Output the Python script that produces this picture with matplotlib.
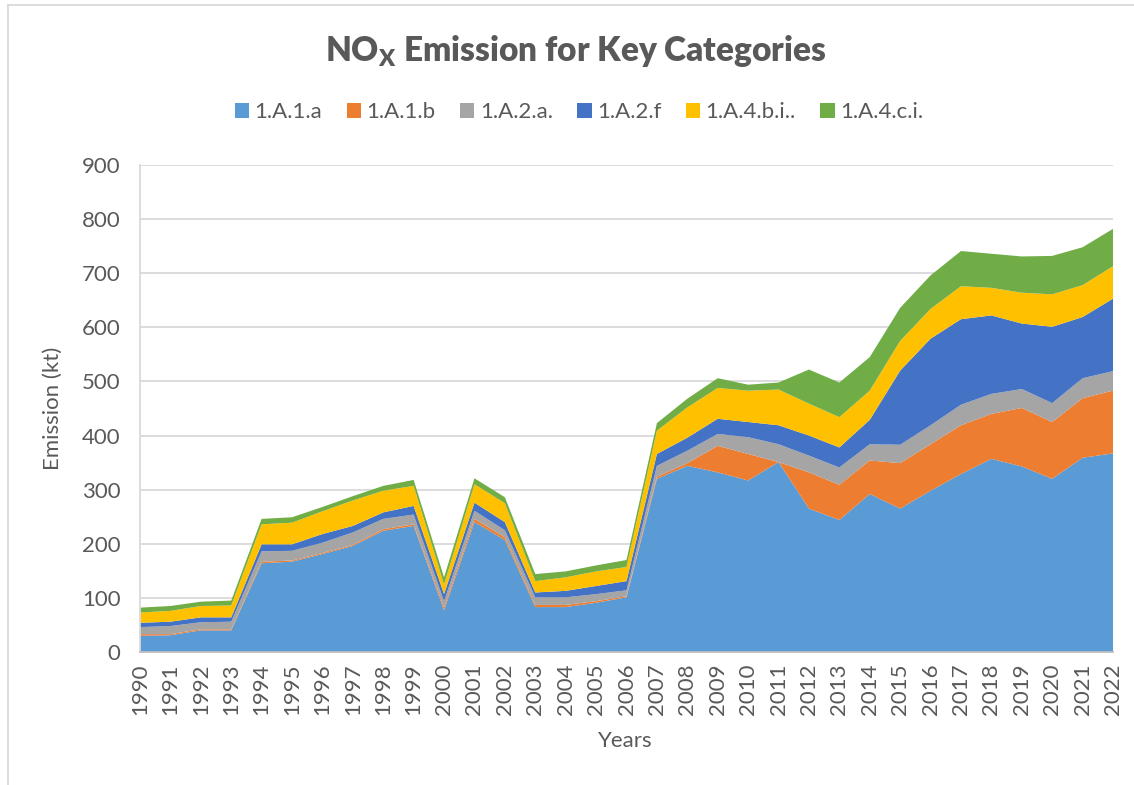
import numpy as np
import matplotlib
matplotlib.use("Agg")
import matplotlib.pyplot as plt
from matplotlib.lines import Line2D
from matplotlib.patches import Patch

plt.rcParams['font.family'] = ['Lato', 'DejaVu Sans']

# NOx emission (kt) by key category
years = list(range(1990, 2023))
cat_1a1a = [30, 31, 40, 40, 164, 167, 181, 196, 224, 233, 77, 240, 207, 83, 83, 91, 101,
            320, 344, 332, 317, 351, 265, 244, 292, 265, 298, 329, 357, 343, 320, 359, 367]
cat_1a1b = [3, 2, 2, 2, 3, 2, 2, 2, 3, 3, 5, 6, 5, 4, 4, 3, 2,
            4, 5, 49, 49, 0, 67, 65, 62, 84, 86, 90, 83, 108, 105, 110, 116]
cat_1a2a = [13, 15, 13, 14, 19, 18, 19, 23, 19, 18, 12, 15, 13, 14, 14, 13, 11,
            20, 23, 22, 31, 33, 31, 32, 30, 34, 35, 38, 37, 35, 35, 37, 36]
cat_1a2f = [8, 8, 9, 8, 13, 12, 16, 12, 12, 16, 13, 15, 15, 9, 12, 15, 17,
            22, 24, 28, 28, 35, 37, 37, 45, 137, 160, 158, 145, 121, 141, 113, 134]
cat_1a4bi = [19, 20, 21, 22, 37, 40, 42, 47, 40, 37, 18, 34, 35, 21, 25, 27, 26,
             43, 56, 57, 58, 66, 59, 56, 54, 55, 55, 61, 51, 57, 60, 59, 60]
cat_1a4ci = [9, 9, 8, 9, 10, 10, 8, 8, 9, 11, 13, 11, 11, 13, 11, 11, 13,
             14, 16, 18, 11, 13, 63, 64, 62, 61, 62, 65, 63, 67, 71, 70, 69]

labels = ['1.A.1.a', '1.A.1.b', '1.A.2.a.', '1.A.2.f', '1.A.4.b.i..', '1.A.4.c.i.']
colors = ['#5B9BD5', '#ED7D31', '#A5A5A5', '#4472C4', '#FFC000', '#70AD47']
text_color = '#595959'
grid_color = '#D9D9D9'

fig = plt.figure(figsize=(11.34, 7.85), dpi=100)
ax = fig.add_axes([140 / 1134, 1 - 652 / 785, (1113 - 140) / 1134, (652 - 165) / 785])

ax.stackplot(years, cat_1a1a, cat_1a1b, cat_1a2a, cat_1a2f, cat_1a4bi, cat_1a4ci,
             colors=colors, labels=labels, linewidth=0, zorder=2)

ax.set_xlim(1990, 2022)
ax.set_ylim(0, 900)
ax.set_yticks(range(0, 901, 100))
ax.set_xticks(years)
ax.set_xticklabels([str(y) for y in years], rotation=90)
ax.tick_params(axis='both', length=0, colors=text_color, labelsize=16)
ax.tick_params(axis='y', pad=14)
ax.tick_params(axis='x', pad=8)
ax.grid(axis='y', color=grid_color, linewidth=1.3, zorder=0)
ax.set_axisbelow(True)
for side in ['top', 'right']:
    ax.spines[side].set_visible(False)
ax.spines['left'].set_color(grid_color)
ax.spines['left'].set_linewidth(1.3)
ax.spines['bottom'].set_color('#BFBFBF')
ax.spines['bottom'].set_linewidth(1.3)
ax.spines['bottom'].set_zorder(3)

ax.set_ylabel('Emission (kt)', fontsize=16, color=text_color, labelpad=14)
fig.text(625 / 1134, 1 - 741 / 785, 'Years', fontsize=16, color=text_color,
         ha='center', va='center')

fig.text(576 / 1134, 1 - 51 / 785, r'NO$_\mathregular{X}$ Emission for Key Categories',
         fontsize=24, fontweight='heavy', color=text_color, ha='center', va='center')

handles = [Patch(facecolor=c, edgecolor='none') for c in colors]
fig.legend(handles, labels, loc='center', bbox_to_anchor=(579 / 1134, 1 - 112 / 785),
           ncol=6, frameon=False, fontsize=16, labelcolor=text_color,
           handlelength=0.64, handleheight=0.64, handletextpad=0.25, columnspacing=1.1)

# chart frame (left and top edges visible)
fig.add_artist(Line2D([8 / 1134, 8 / 1134], [0, 1 - 5 / 785], color=grid_color,
                      linewidth=1.3, transform=fig.transFigure))
fig.add_artist(Line2D([8 / 1134, 1], [1 - 5 / 785, 1 - 5 / 785], color=grid_color,
                      linewidth=1.3, transform=fig.transFigure))

fig.savefig('out.png', dpi=100)
